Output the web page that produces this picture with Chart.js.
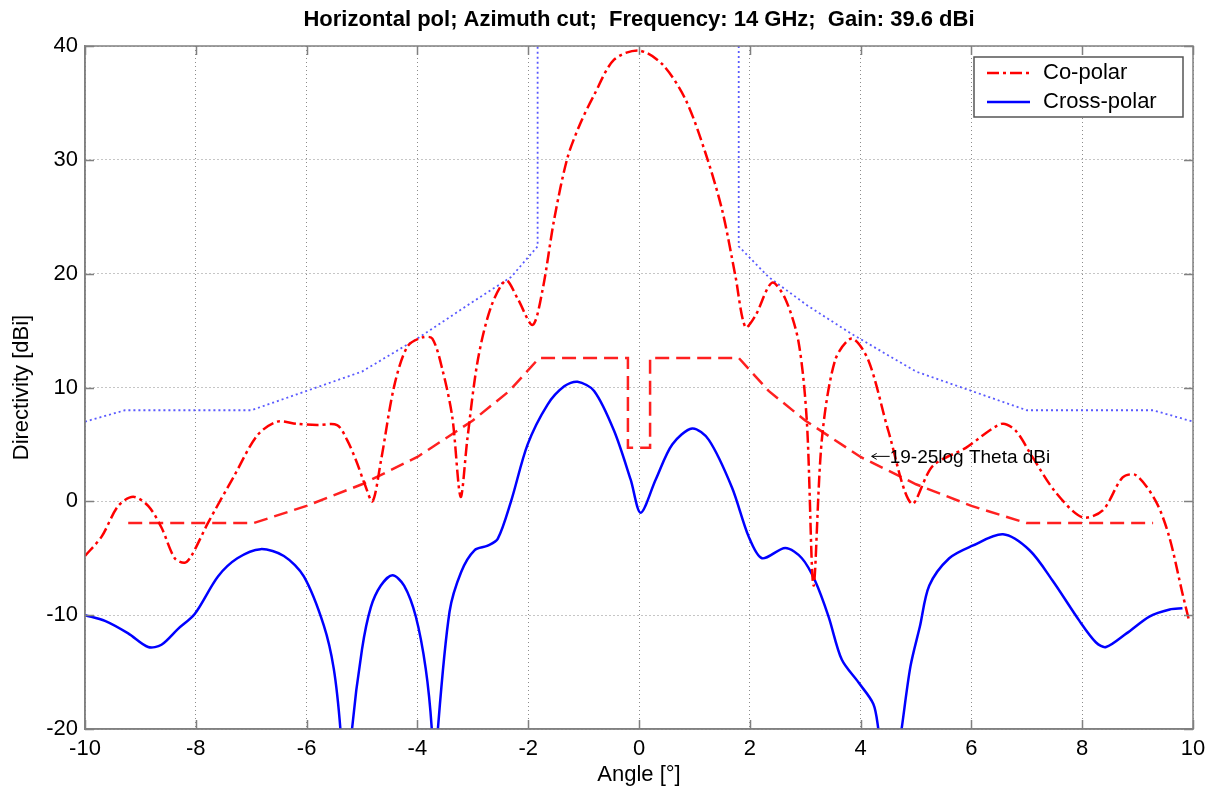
<!DOCTYPE html>
<html>
<head>
<meta charset="utf-8">
<title>Horizontal pol; Azimuth cut</title>
<script src="https://cdn.jsdelivr.net/npm/chart.js@4.4.1/dist/chart.umd.min.js"></script>
<style>
    html, body { margin: 0; padding: 0; background: #fff; }
    #wrap { width: 1217px; height: 796px; }
</style>
</head>
<body>
<div id="wrap"><canvas id="chart" width="1217" height="796"></canvas></div>
<script>
// Co-polar (measured), angle in degrees / directivity in dBi
const coAngle = [-10, -9.7, -9.4, -9.13, -8.86, -8.62, -8.38, -8.2, -8.08, -7.78, -7.3, -6.89, -6.53, -6.17, -5.81, -5.45, -5.27, -5.1, -4.95, -4.81,
    -4.66, -4.42, -4.18, -3.91, -3.73, -3.55, -3.37, -3.22, -3.1, -2.91, -2.67, -2.4, -2.19, -1.92, -1.74, -1.53, -1.29, -1.05, -0.81, -0.45,
    0, 0.42, 0.84, 1.2, 1.5, 1.74, 1.92, 2.1, 2.4, 2.64, 2.88, 3.03, 3.15, 3.3, 3.54, 3.84, 4.14, 4.5, 4.92,
    5.3, 5.9, 6.54, 6.8, 7.1, 7.52, 8.0, 8.37, 8.73, 8.97, 9.33, 9.57, 9.81, 9.93];
const coGain = [-4.8, -3.1, -0.4, 0.4, -0.4, -2.3, -5.0, -5.4, -4.8, -1.9, 2.3, 5.8, 7.0, 6.8, 6.7, 6.7, 5.4, 3.5, 1.5, 0,
    3.5, 10.1, 13.6, 14.4, 14.3, 11.6, 7.4, 0.4, 5.4, 12.4, 17.1, 19.4, 17.8, 15.5, 18.6, 24.8, 30.2, 33.3, 35.7, 38.8,
    39.6, 38.4, 35.3, 30.6, 25.6, 19.8, 15.3, 16.3, 19.2, 17.8, 14, 7, -7.4, 5.4, 12.4, 14.3, 12.4, 6.2, -0.2,
    3.1, 4.7, 6.8, 6.2, 3.9, 0.8, -1.4, -0.8, 2.1, 2.3, 0, -3.1, -8.1, -10.5];

// Cross-polar (measured)
const xpAngle = [-10, -9.64, -9.22, -8.86, -8.62, -8.32, -8.02, -7.6, -7.25, -6.83, -6.41, -6.05, -5.69, -5.51, -5.39, -5.29, -5.18, -5.0, -4.84,
    -4.66, -4.45, -4.24, -4.03, -3.85, -3.74, -3.69, -3.63, -3.42, -3.21, -2.97, -2.73, -2.55, -2.31, -2.01, -1.65, -1.35, -1.11, -0.81, -0.45, -0.15,
    0.03, 0.3, 0.6, 0.96, 1.26, 1.68, 1.98, 2.22, 2.64, 2.94, 3.18, 3.42, 3.66, 3.96, 4.23, 4.32, 4.53, 4.74, 4.9, 5.07,
    5.24, 5.6, 6.02, 6.57, 7.05, 7.47, 7.95, 8.25, 8.43, 8.8, 9.22, 9.58, 9.81];
const xpGain = [-10, -10.5, -11.6, -12.8, -12.6, -11.2, -9.9, -6.6, -5.0, -4.2, -4.8, -6.6, -10.9, -14.7, -20, -28, -20, -13, -9.3,
    -7.4, -6.5, -7.4, -10.1, -14.7, -20, -26, -20, -9.7, -6.2, -4.3, -3.9, -3.3, 0, 5.0, 8.5, 10.1, 10.5, 9.7, 6.2, 1.9,
    -1.0, 1.9, 5.0, 6.4, 5.4, 1.2, -3.1, -5.0, -4.1, -5.0, -7.0, -10.1, -13.9, -15.9, -17.8, -20, -27, -20, -14.5, -11,
    -7.4, -5.0, -3.9, -2.9, -4.3, -7.0, -10.5, -12.4, -12.8, -11.6, -10.1, -9.5, -9.4];

// Red dashed envelope (19-25log Theta)
const envAngle = [-9.22, -6.95, -6, -5, -4, -3, -2.34, -1.8, -0.2, -0.2, 0.2, 0.2, 1.8, 2.34, 3, 4, 5, 6, 6.99, 9.28];
const envGain = [-1.9, -1.9, -0.4, 1.5, 3.9, 7.1, 9.7, 12.6, 12.6, 4.7, 4.7, 12.6, 12.6, 9.7, 7.1, 3.9, 1.5, -0.4, -1.9, -1.9];

// Blue dotted envelope
const envBAngle = [-10, -9.28, -7.0, -6, -5, -4, -3.04, -2.31, -1.83, -1.83, 0, 1.8, 1.8, 2.34, 3.04, 3.84, 5, 6, 7, 9.28, 10];
const envBGain = [7.0, 8.0, 8.0, 9.7, 11.4, 14.3, 17.4, 19.7, 22.4, 40, null, 40, 22.4, 19.7, 17.2, 14.7, 11.4, 9.7, 8.0, 8.0, 7.0];

const xTicks = [-10, -8, -6, -4, -2, 0, 2, 4, 6, 8, 10];
const yTicks = [-20, -10, 0, 10, 20, 30, 40];

const titleText = "Horizontal pol; Azimuth cut;  Frequency: 14 GHz;  Gain: 39.6 dBi";
const noteText = "19-25log Theta dBi";
const noteAt = [4.2, 3.95];

const FONT = "'Liberation Sans', Arial, Helvetica, sans-serif";
const pts = (xs, ys) => xs.map((v, i) => ({ x: v, y: ys[i] }));

// MATLAB-ish title, axes box, inner tick marks, text note and legend
const axesBox = {
    id: "axesBox",
    afterDatasetsDraw(chart) {
        const { ctx, chartArea: a, scales: { x, y } } = chart;
        ctx.save();

        // title centred over the plot
        ctx.fillStyle = "#000";
        ctx.font = `bold 22px ${FONT}`;
        ctx.textAlign = "center";
        ctx.textBaseline = "middle";
        ctx.fillText(titleText, (a.left + a.right) / 2, 20);

        // note with arrow
        const nx = x.getPixelForValue(noteAt[0]);
        const ny = y.getPixelForValue(noteAt[1]);
        ctx.strokeStyle = "#000";
        ctx.lineWidth = 1;
        ctx.beginPath();
        ctx.moveTo(nx, ny); ctx.lineTo(nx + 18, ny);
        ctx.moveTo(nx + 5, ny - 3); ctx.lineTo(nx, ny); ctx.lineTo(nx + 5, ny + 3);
        ctx.stroke();
        ctx.textAlign = "left";
        ctx.font = `19px ${FONT}`;
        ctx.fillText(noteText, nx + 18, ny + 1);

        ctx.strokeStyle = "#808080";
        ctx.lineWidth = 1.5;
        ctx.strokeRect(a.left, a.top, a.right - a.left, a.bottom - a.top);
        ctx.beginPath();
        xTicks.forEach((t) => {
            const px = Math.round(x.getPixelForValue(t)) + 0.5;
            ctx.moveTo(px, a.bottom); ctx.lineTo(px, a.bottom - 9);
            ctx.moveTo(px, a.top); ctx.lineTo(px, a.top + 9);
        });
        yTicks.forEach((t) => {
            const py = Math.round(y.getPixelForValue(t)) + 0.5;
            ctx.moveTo(a.left, py); ctx.lineTo(a.left + 9, py);
            ctx.moveTo(a.right, py); ctx.lineTo(a.right - 9, py);
        });
        ctx.stroke();

        // legend
        const w = 209, h = 60;
        const lx = a.right - 10 - w, ly = a.top + 11;
        ctx.fillStyle = "#fff";
        ctx.fillRect(lx, ly, w, h);
        ctx.strokeStyle = "#555";
        ctx.lineWidth = 1.5;
        ctx.strokeRect(lx, ly, w, h);
        ctx.font = `22px ${FONT}`;
        [0, 1].forEach((i) => {
            const ds = chart.data.datasets[i];
            const cy = ly + 16 + i * 29;
            ctx.strokeStyle = ds.borderColor;
            ctx.lineWidth = ds.borderWidth;
            ctx.setLineDash(ds.borderDash || []);
            ctx.beginPath();
            ctx.moveTo(lx + 13, cy); ctx.lineTo(lx + 56, cy);
            ctx.stroke();
            ctx.setLineDash([]);
            ctx.fillStyle = "#000";
            ctx.fillText(ds.label, lx + 69, cy);
        });
        ctx.restore();
    }
};

const ctx = document.getElementById("chart").getContext("2d");
new Chart(ctx, {
    type: "scatter",
    data: {
        datasets: [
            {
                label: "Co-polar",
                data: pts(coAngle, coGain),
                borderColor: "#ff0000",
                borderWidth: 2.5,
                borderDash: [12, 4, 3, 4],
                tension: 0.3
            },
            {
                label: "Cross-polar",
                data: pts(xpAngle, xpGain),
                borderColor: "#0000ff",
                borderWidth: 2.5,
                tension: 0.3
            },
            {
                label: "mask",
                data: pts(envAngle, envGain),
                borderColor: "#ff2020",
                borderWidth: 2.5,
                borderDash: [14, 7]
            },
            {
                label: "mask2",
                data: pts(envBAngle, envBGain),
                borderColor: "#5a5aff",
                borderWidth: 1.8,
                borderDash: [2, 3],
                spanGaps: false
            }
        ]
    },
    options: {
        responsive: false,
        animation: false,
        devicePixelRatio: 1,
        showLine: true,
        elements: { point: { radius: 0, hoverRadius: 0 } },
        layout: { padding: { left: 0, right: 24, top: 46, bottom: 0 } },
        plugins: {
            legend: { display: false },
            tooltip: { enabled: false },
            title: { display: false }
        },
        scales: {
            x: {
                type: "linear",
                min: -10,
                max: 10,
                afterBuildTicks: (scale) => { scale.ticks = xTicks.map((v) => ({ value: v })); },
                afterFit: (scale) => { scale.height = 67; },
                ticks: { color: "#000", font: { family: FONT, size: 22 }, padding: 7, maxRotation: 0, autoSkip: false },
                grid: { color: "rgba(0,0,0,0.45)", drawTicks: false },
                border: { display: true, color: "#808080", width: 1.5, dash: [1, 3] },
                title: { display: true, text: "Angle [\u00b0]", color: "#000", font: { family: FONT, size: 22 }, padding: { top: 0, bottom: 8 } }
            },
            y: {
                type: "linear",
                min: -20,
                max: 40,
                afterBuildTicks: (scale) => { scale.ticks = yTicks.map((v) => ({ value: v })); },
                afterFit: (scale) => { scale.width = 85; },
                ticks: { color: "#000", font: { family: FONT, size: 22 }, padding: 7 },
                grid: { color: "rgba(0,0,0,0.45)", drawTicks: false },
                border: { display: true, color: "#808080", width: 1.5, dash: [1, 3] },
                title: { display: true, text: "Directivity [dBi]", color: "#000", font: { family: FONT, size: 22 }, padding: { top: 9, bottom: 0 } }
            }
        }
    },
    plugins: [axesBox]
});
</script>
</body>
</html>
